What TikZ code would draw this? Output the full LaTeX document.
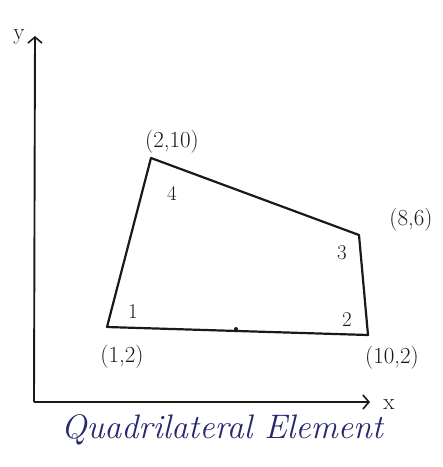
\documentclass[tikz,border=0pt]{standalone}
\usetikzlibrary{arrows.meta}
\definecolor{inkblue}{RGB}{40,40,110}
\definecolor{pencil}{RGB}{25,25,25}
\tikzset{
  edge/.style={draw=pencil, line width=2.2pt, line join=round},
  axis/.style={draw=pencil, line width=1.9pt, -{Straight Barb[length=6pt,width=14pt,line width=1.6pt]}},
  coordlbl/.style={font=\fontsize{23}{26}\selectfont, text=pencil, inner sep=0pt},
  numlbl/.style={font=\fontsize{21}{24}\selectfont, text=pencil, inner sep=0pt},
  caption/.style={font=\fontsize{34}{38}\selectfont\itshape, text=inkblue, inner sep=0pt}
}
\begin{document}
\begin{tikzpicture}[x=1pt,y=-1pt]
\useasboundingbox (0,0) rectangle (443,467);
% axes
\coordinate (O) at (34,402);
\coordinate (Ytop) at (35,36);
\coordinate (Xend) at (370,402);
\draw[axis] (O) -- (Ytop);
\draw[axis] (O) -- (Xend);
\node[coordlbl] (ylbl) at (19,37) {y};
\node[coordlbl] (xlbl) at (389,405) {x};
% vertices
\coordinate (n1) at (107,327);
\coordinate (n2) at (368,335);
\coordinate (n3) at (359,235);
\coordinate (n4) at (151,158);
\draw[edge] (n1) -- (n2) -- (n3) -- (n4) -- cycle;
% small mark on bottom edge
\fill[pencil] (236,329) circle (2pt);
% coordinate labels
\node[coordlbl] (l4) at (172,142) {(2,10)};
\node[coordlbl] (l3) at (411,220) {(8,6)};
\node[coordlbl] (l1) at (122,357) {(1,2)};
\node[coordlbl] (l2) at (392,358) {(10,2)};
% node numbers
\node[numlbl] (k1) at (133,312) {1};
\node[numlbl] (k2) at (347,320) {2};
\node[numlbl] (k3) at (342,253) {3};
\node[numlbl] (k4) at (172,193) {4};
% caption
\node[caption] (cap) at (222,430) {Quadrilateral Element};
\end{tikzpicture}
\end{document}
